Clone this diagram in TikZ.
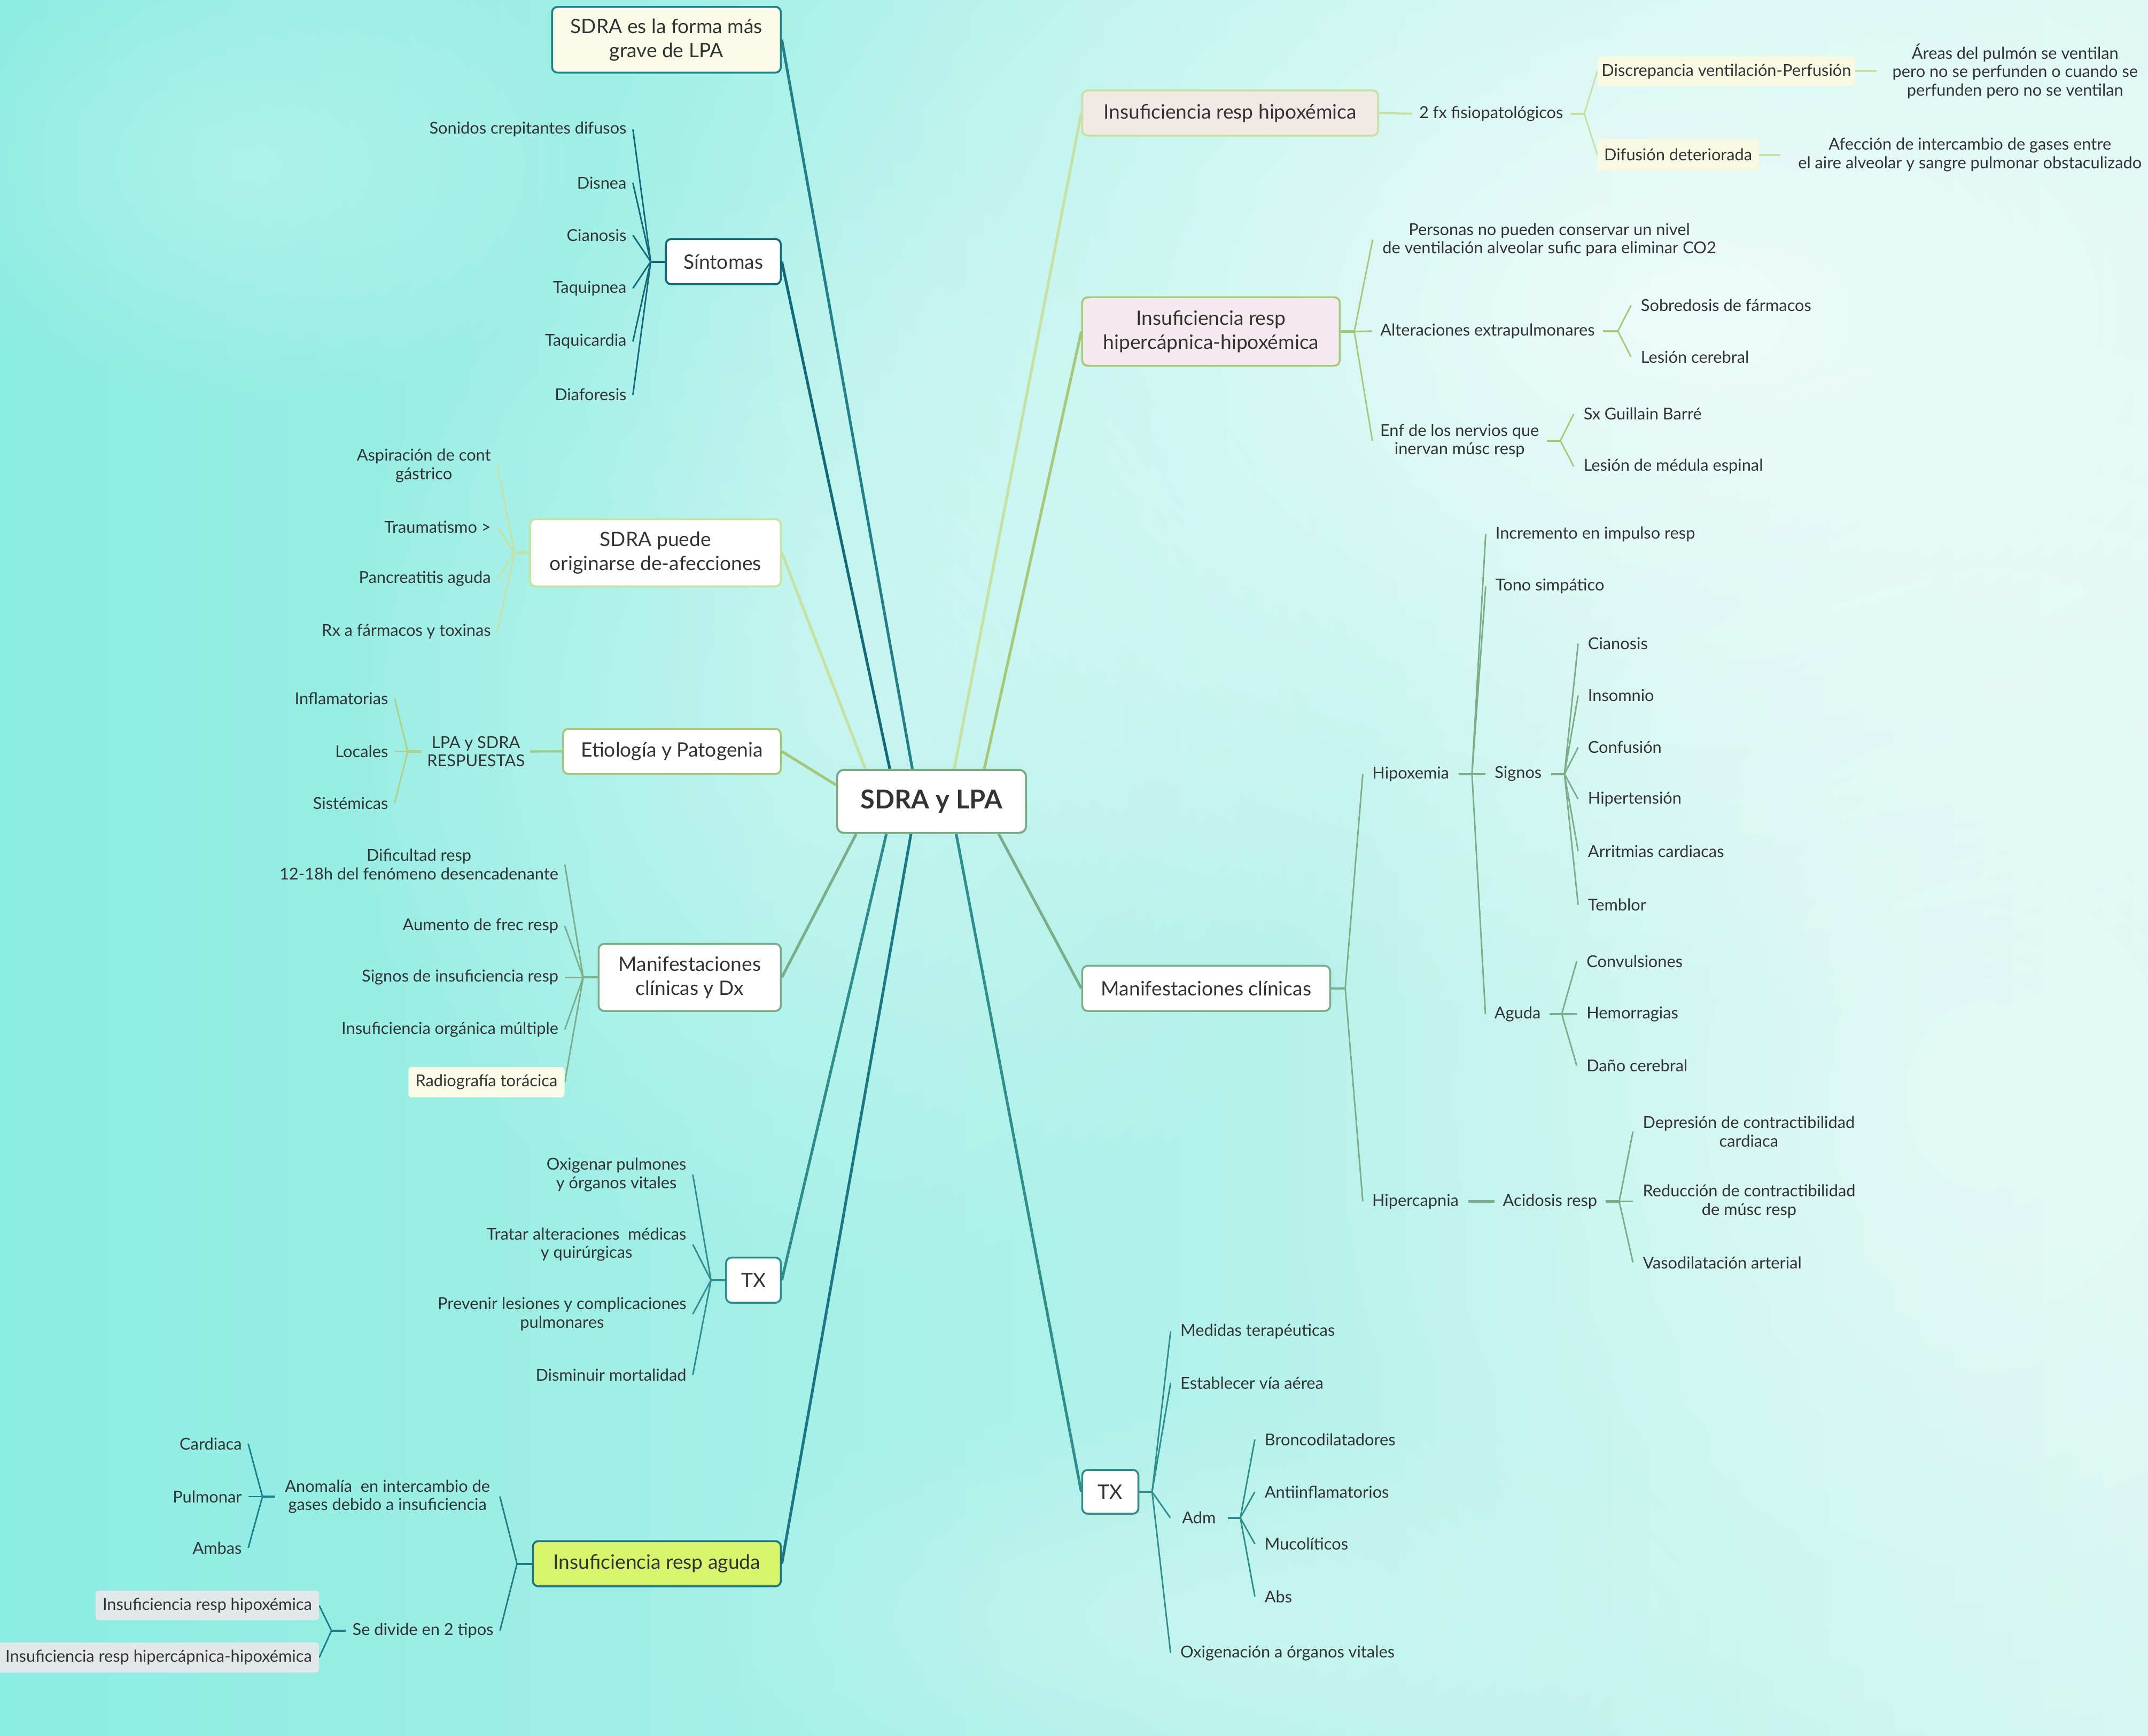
\documentclass[tikz,border=0pt]{standalone}
\usepackage{fontspec}
\setmainfont{Lato}
\usetikzlibrary{calc,fadings}
\pgfdeclarelayer{backdrop}
\pgfdeclarelayer{links}
\pgfsetlayers{backdrop,links,main}

\definecolor{txt}{HTML}{333333}
\definecolor{bgL}{HTML}{8BECE2}
\definecolor{bgR}{HTML}{D2F6F0}
\definecolor{rootc}{HTML}{78AA84}
\definecolor{cA}{HTML}{22808A}
\definecolor{cB}{HTML}{12697A}
\definecolor{cC}{HTML}{C6E1A0}
\definecolor{cD}{HTML}{A5C777}
\definecolor{cDk}{HTML}{B4D07E}
\definecolor{cE}{HTML}{7BAE88}
\definecolor{cF}{HTML}{2E8E8E}
\definecolor{cG}{HTML}{1A7784}
\definecolor{cGk}{HTML}{1E7E87}
\definecolor{cH}{HTML}{C6E1A0}
\definecolor{cI}{HTML}{A6C978}
\definecolor{cJ}{HTML}{7BAE88}
\definecolor{creamA}{HTML}{FBFCE8}
\definecolor{limeG}{HTML}{D8F46C}
\definecolor{pinkH}{HTML}{F1E9E6}
\definecolor{pinkI}{HTML}{F3E9EF}
\definecolor{creamH}{HTML}{F8F9E3}
\definecolor{greyT}{HTML}{E2E8EA}

\tikzfading[name=softglow, inner color=transparent!0, outer color=transparent!100]

\tikzset{
  base/.style={font=\fontsize{12}{13.5}\selectfont, text=txt, align=center, inner ysep=1pt},
  leafL/.style={base, anchor=east, inner xsep=4.5pt},
  leafR/.style={base, anchor=west, inner xsep=7pt},
  mid/.style={base, inner xsep=0pt},
  tagbox/.style={base, rounded corners=2pt, inner sep=0pt},
  topic/.style={draw, rounded corners=4pt, line width=1.4pt, fill=white,
    font=\fontsize{14.5}{17.5}\selectfont, text=txt, align=center, inner sep=0pt},
  rootbox/.style={draw=rootc, rounded corners=5pt, line width=1.5pt, fill=white,
    font=\fontsize{19}{22}\selectfont\bfseries, text=txt, inner sep=0pt,
    minimum width=138pt, minimum height=46pt},
  trunk/.style={line width=2pt},
  stub/.style={line width=1.6pt},
  twig/.style={line width=1.1pt}
}

\begin{document}
\begin{tikzpicture}[x=1pt,y=-1pt]
\useasboundingbox (0,0) rectangle (1568,1267);

% backdrop
\begin{pgfonlayer}{backdrop}
\shade[left color=bgL, right color=bgR] (0,0) rectangle (1568,1267);
\fill[white, opacity=0.7, path fading=softglow] (1230,230) ellipse (820 and 520);
\fill[white, opacity=0.45, path fading=softglow] (1450,800) ellipse (520 and 600);
\fill[white, opacity=0.35, path fading=softglow] (620,520) ellipse (380 and 420);
\fill[white, opacity=0.25, path fading=softglow] (180,120) ellipse (260 and 180);
\fill[white, opacity=0.25, path fading=softglow] (880,1180) ellipse (420 and 160);
\end{pgfonlayer}

% central topic
\node[rootbox] (root) at (680,585) {SDRA y LPA};

% main topics, left
\node[topic, draw=cA, fill=creamA, minimum width=167pt, minimum height=48pt] (forma) at (486.5,29) {SDRA es la forma más\\grave de LPA};
\node[topic, draw=cB, minimum width=84pt, minimum height=33pt] (sint) at (528,191) {Síntomas};
\node[topic, draw=cC, minimum width=183pt, minimum height=49pt] (orig) at (478.5,403.5) {SDRA puede\\originarse de-afecciones};
\node[topic, draw=cD, minimum width=159pt, minimum height=33pt] (etio) at (490.5,548.5) {Etiología y Patogenia};
\node[topic, draw=cE, minimum width=133pt, minimum height=49pt] (mdx) at (503.5,713.5) {Manifestaciones\\clínicas y Dx};
\node[topic, draw=cF, minimum width=40pt, minimum height=33pt] (txl) at (550,934.5) {TX};
\node[topic, draw=cG, fill=limeG, minimum width=181pt, minimum height=33pt] (agud) at (479.5,1141.5) {Insuficiencia resp aguda};

% main topics, right
\node[topic, draw=cH, fill=pinkH, minimum width=216pt, minimum height=33pt] (hipox) at (898,82.5) {Insuficiencia resp hipoxémica};
\node[topic, draw=cI, fill=pinkI, minimum width=188pt, minimum height=50pt] (hiper) at (884,242) {Insuficiencia resp\\hipercápnica-hipoxémica};
\node[topic, draw=cJ, minimum width=181pt, minimum height=33pt] (mcl) at (880.5,721.5) {Manifestaciones clínicas};
\node[topic, draw=cF, minimum width=41pt, minimum height=32pt] (txr) at (810.5,1089) {TX};

% Síntomas
\coordinate (jB) at (475,191);
\node[leafL] (b1) at (462,94.5) {Sonidos crepitantes difusos};
\node[leafL] (b2) at (462,133.5) {Disnea};
\node[leafL] (b3) at (462,171.7) {Cianosis};
\node[leafL] (b4) at (462,210.5) {Taquipnea};
\node[leafL] (b5) at (462,249.3) {Taquicardia};
\node[leafL] (b6) at (462,288.2) {Diaforesis};

% origen
\coordinate (jC) at (375.6,403.5);
\node[leafL] (c1) at (363,340) {Aspiración de cont\\gástrico};
\node[leafL] (c2) at (363,384.8) {Traumatismo >};
\node[leafL] (c3) at (363,422.5) {Pancreatitis aguda};
\node[leafL] (c4) at (363,461) {Rx a fármacos y toxinas};

% etiología
\node[mid, minimum width=79pt] (lpa) at (347.4,548.6) {LPA y SDRA\\RESPUESTAS};
\coordinate (jD) at (297.6,548.6);
\node[leafL] (d1) at (288,509.8) {Inflamatorias};
\node[leafL] (d2) at (288,548.6) {Locales};
\node[leafL] (d3) at (288,586.4) {Sistémicas};

% manifestaciones y Dx
\coordinate (jE) at (425.7,713.5);
\node[leafL] (e1) at (412.3,631) {Dificultad resp\\12-18h del fenómeno desencadenante};
\node[leafL] (e2) at (412.3,676) {Aumento de frec resp};
\node[leafL] (e3) at (412.3,713.5) {Signos de insuficiencia resp};
\node[leafL] (e4) at (412.3,751.5) {Insuficiencia orgánica múltiple};
\node[tagbox, fill=creamA, anchor=east, minimum width=114pt, minimum height=22pt] (e5) at (412.3,790) {Radiografía torácica};

% TX izquierda
\coordinate (jF) at (519,934.5);
\node[leafL] (f1) at (505.7,857.4) {Oxigenar pulmones\\y órganos vitales};
\node[leafL] (f2) at (505.7,908.4) {Tratar alteraciones\ \ médicas\\y quirúrgicas};
\node[leafL] (f3) at (505.7,959.3) {Prevenir lesiones y complicaciones\\pulmonares};
\node[leafL] (f4) at (505.7,1003.7) {Disminuir mortalidad};

% insuficiencia aguda
\coordinate (jG) at (377.4,1141.5);
\node[mid, minimum width=163.7pt] (anom) at (282.85,1092.5) {Anomalía\ \ en intercambio de\\gases debido a insuficiencia};
\node[mid, minimum width=112pt] (divi) at (308.75,1190.4) {Se divide en 2 tipos};
\coordinate (jG1) at (191.6,1092.5);
\node[leafL] (g1) at (181.2,1054) {Cardiaca};
\node[leafL] (g2) at (181.2,1092.5) {Pulmonar};
\node[leafL] (g3) at (181.2,1130) {Ambas};
\coordinate (jG2) at (242,1190.4);
\node[tagbox, fill=greyT, anchor=east, minimum width=163pt, minimum height=21.6pt] (g4) at (233,1172) {Insuficiencia resp hipoxémica};
\node[tagbox, fill=greyT, anchor=east, minimum width=234pt, minimum height=22pt] (g5) at (233,1210) {Insuficiencia resp hipercápnica-hipoxémica};

% hipoxémica
\node[mid, minimum width=115pt] (fx) at (1088.5,83) {2 fx fisiopatológicos};
\coordinate (jH) at (1156.5,83);
\node[tagbox, fill=creamH, anchor=west, minimum width=188pt, minimum height=22pt] (disc) at (1166,52) {Discrepancia ventilación-Perfusión};
\node[tagbox, fill=creamH, anchor=west, minimum width=117.6pt, minimum height=23pt] (difu) at (1166,113) {Difusión deteriorada};
\node[mid, minimum width=202pt] (areas) at (1471,52) {Áreas del pulmón se ventilan\\pero no se perfunden o cuando se\\perfunden pero no se ventilan};
\node[mid, minimum width=276pt] (afec) at (1438,113) {Afección de intercambio de gases entre\\el aire alveolar y sangre pulmonar obstaculizado};

% hipercápnica
\coordinate (jI) at (988.6,242);
\node[leafR] (i1) at (1002,175) {Personas no pueden conservar un nivel\\de ventilación alveolar sufic para eliminar CO2};
\node[mid, minimum width=167.8pt] (alt) at (1085.9,241.7) {Alteraciones extrapulmonares};
\node[mid, minimum width=127pt] (enf) at (1065.5,321.7) {Enf de los nervios que\\inervan músc resp};
\coordinate (jI1) at (1181,241.7);
\node[leafR] (i2) at (1190.6,222.9) {Sobredosis de fármacos};
\node[leafR] (i3) at (1190.6,260.5) {Lesión cerebral};
\coordinate (jI2) at (1139,321.7);
\node[leafR] (i4) at (1148.8,302.2) {Sx Guillain Barré};
\node[leafR] (i5) at (1148.8,340.5) {Lesión de médula espinal};

% manifestaciones clínicas
\coordinate (jJ) at (982,721.5);
\node[mid, minimum width=69.6pt] (hoxe) at (1029.8,565) {Hipoxemia};
\node[mid, minimum width=76.5pt] (hcap) at (1033.25,877) {Hipercapnia};
\coordinate (jJ1) at (1074.5,565);
\node[leafR] (j1) at (1084.5,390) {Incremento en impulso resp};
\node[leafR] (j2) at (1084.5,428) {Tono simpático};
\node[mid, minimum width=47.5pt] (sig) at (1108.25,565) {Signos};
\node[mid, minimum width=46.5pt] (agu) at (1107.75,740.2) {Aguda};
\coordinate (jJ2) at (1142,565);
\node[leafR] (j3) at (1152,469.8) {Cianosis};
\node[leafR] (j4) at (1152,507.7) {Insomnio};
\node[leafR] (j5) at (1152,545.6) {Confusión};
\node[leafR] (j6) at (1152,583.4) {Hipertensión};
\node[leafR] (j7) at (1152,621.3) {Arritmias cardiacas};
\node[leafR] (j8) at (1152,660.5) {Temblor};
\coordinate (jJ3) at (1140,740.2);
\node[leafR] (j9) at (1151,701.7) {Convulsiones};
\node[leafR] (j10) at (1151,740.2) {Hemorragias};
\node[leafR] (j11) at (1151,778) {Daño cerebral};
\node[mid, minimum width=81pt] (acid) at (1131.5,877) {Acidosis resp};
\coordinate (jJ4) at (1182,877);
\node[leafR] (j12) at (1192,826) {Depresión de contractibilidad\\cardiaca};
\node[leafR] (j13) at (1192,877) {Reducción de contractibilidad\\de músc resp};
\node[leafR] (j14) at (1192,921.6) {Vasodilatación arterial};

% TX derecha
\coordinate (jK) at (841,1089);
\node[leafR] (k1) at (854.5,971.8) {Medidas terapéuticas};
\node[leafR] (k2) at (854.5,1009.6) {Establecer vía aérea};
\node[mid, minimum width=41.5pt] (adm) at (875.25,1108) {Adm};
\node[leafR] (k4) at (854.5,1206.8) {Oxigenación a órganos vitales};
\coordinate (jK1) at (905.4,1108);
\node[leafR] (k5) at (916,1050.8) {Broncodilatadores};
\node[leafR] (k6) at (916,1089) {Antiinflamatorios};
\node[leafR] (k7) at (916,1127) {Mucolíticos};
\node[leafR] (k8) at (916,1165.4) {Abs};

% connectors
\begin{pgfonlayer}{links}
% trunks to the central topic
\draw[trunk, cA] (forma.east) -- ($(root.north)+(-14,0)$);
\draw[trunk, cB] (sint.east) -- ($(root.north)+(-30.5,0)$);
\draw[trunk, cC] (orig.east) -- ($(root.north)+(-48.3,0)$);
\draw[trunk, cD] (etio.east) -- ($(root.west)+(0,-12)$);
\draw[trunk, cE] (mdx.east) -- ($(root.south)+(-55,0)$);
\draw[trunk, cF] (txl.east) -- ($(root.south)+(-33,0)$);
\draw[trunk, cG] (agud.east) -- ($(root.south)+(-15,0)$);
\draw[trunk, cH] (hipox.west) -- ($(root.north)+(16.6,0)$);
\draw[trunk, cI] (hiper.west) -- ($(root.north)+(38.5,0)$);
\draw[trunk, cJ] (mcl.west) -- ($(root.south)+(49,0)$);
\draw[trunk, cF] (txr.west) -- ($(root.south)+(18,0)$);

% Síntomas
\draw[stub, cB] (sint.west) -- (jB);
\foreach \n in {b1,b2,b3,b4,b5,b6} \draw[twig, cB] (jB) -- (\n.east);
% origen
\draw[stub, cC] (orig.west) -- (jC);
\foreach \n in {c1,c2,c3,c4} \draw[twig, cC] (jC) -- (\n.east);
% etiología
\draw[stub, cD] (etio.west) -- (lpa.east);
\draw[stub, cDk] (lpa.west) -- (jD);
\foreach \n in {d1,d2,d3} \draw[twig, cDk] (jD) -- (\n.east);
% manifestaciones y Dx
\draw[stub, cE] (mdx.west) -- (jE);
\foreach \n in {e1,e2,e3,e4,e5} \draw[twig, cE] (jE) -- (\n.east);
% TX izquierda
\draw[stub, cF] (txl.west) -- (jF);
\foreach \n in {f1,f2,f3,f4} \draw[twig, cF] (jF) -- (\n.east);
% insuficiencia aguda
\draw[stub, cGk] (agud.west) -- (jG);
\draw[twig, cGk] (jG) -- (anom.east);
\draw[twig, cGk] (jG) -- (divi.east);
\draw[stub, cGk] (anom.west) -- (jG1);
\foreach \n in {g1,g2,g3} \draw[twig, cGk] (jG1) -- (\n.east);
\draw[stub, cGk] (divi.west) -- (jG2);
\foreach \n in {g4,g5} \draw[twig, cGk] (jG2) -- (\n.east);
% hipoxémica
\draw[stub, cH] (hipox.east) -- (fx.west);
\draw[stub, cH] (fx.east) -- (jH);
\draw[twig, cH] (jH) -- (disc.west);
\draw[twig, cH] (jH) -- (difu.west);
\draw[stub, cH] (disc.east) -- (areas.west);
\draw[stub, cH] (difu.east) -- (afec.west);
% hipercápnica
\draw[stub, cI] (hiper.east) -- (jI);
\draw[twig, cI] (jI) -- (i1.west);
\draw[twig, cI] (jI) -- (alt.west);
\draw[twig, cI] (jI) -- (enf.west);
\draw[stub, cI] (alt.east) -- (jI1);
\foreach \n in {i2,i3} \draw[twig, cI] (jI1) -- (\n.west);
\draw[stub, cI] (enf.east) -- (jI2);
\foreach \n in {i4,i5} \draw[twig, cI] (jI2) -- (\n.west);
% manifestaciones clínicas
\draw[stub, cJ] (mcl.east) -- (jJ);
\draw[twig, cJ] (jJ) -- (hoxe.west);
\draw[twig, cJ] (jJ) -- (hcap.west);
\draw[stub, cJ] (hoxe.east) -- (jJ1);
\foreach \n in {j1,j2,sig,agu} \draw[twig, cJ] (jJ1) -- (\n.west);
\draw[stub, cJ] (sig.east) -- (jJ2);
\foreach \n in {j3,j4,j5,j6,j7,j8} \draw[twig, cJ] (jJ2) -- (\n.west);
\draw[stub, cJ] (agu.east) -- (jJ3);
\foreach \n in {j9,j10,j11} \draw[twig, cJ] (jJ3) -- (\n.west);
\draw[stub, cJ] (hcap.east) -- (acid.west);
\draw[stub, cJ] (acid.east) -- (jJ4);
\foreach \n in {j12,j13,j14} \draw[twig, cJ] (jJ4) -- (\n.west);
% TX derecha
\draw[stub, cF] (txr.east) -- (jK);
\foreach \n in {k1,k2,adm,k4} \draw[twig, cF] (jK) -- (\n.west);
\draw[stub, cF] (adm.east) -- (jK1);
\foreach \n in {k5,k6,k7,k8} \draw[twig, cF] (jK1) -- (\n.west);
\end{pgfonlayer}
\end{tikzpicture}
\end{document}
